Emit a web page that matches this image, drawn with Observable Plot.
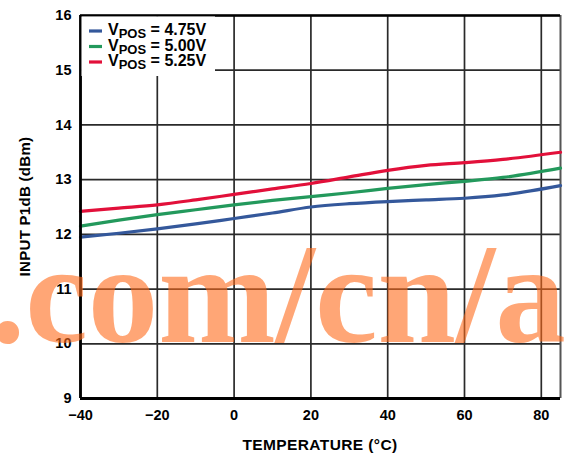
<!DOCTYPE html>
<html>
<head>
<meta charset="utf-8">
<script src="https://cdn.jsdelivr.net/npm/d3@7"></script>
<script src="https://cdn.jsdelivr.net/npm/@observablehq/plot@0.6"></script>
<style>
  html, body { margin: 0; padding: 0; background: #fff; }
  #chart { position: relative; width: 568px; height: 454px; }
</style>
</head>
<body>
<div id="chart"></div>
<script>
const temps = [-40, -30, -20, -10, 0, 10, 20, 30, 40, 50, 60, 70, 85];
const v475 = [11.95, 12.02, 12.10, 12.19, 12.29, 12.39, 12.50, 12.56, 12.60, 12.63, 12.66, 12.72, 12.89];
const v500 = [12.15, 12.26, 12.36, 12.45, 12.54, 12.62, 12.69, 12.76, 12.84, 12.91, 12.97, 13.04, 13.21];
const v525 = [12.42, 12.48, 12.54, 12.63, 12.73, 12.83, 12.93, 13.05, 13.17, 13.26, 13.31, 13.37, 13.50];
const seriesNames = ["4.75V", "5.00V", "5.25V"];
const seriesColors = ["#34589b", "#23995c", "#e2103a"];
const xTicks = [-40, -20, 0, 20, 40, 60, 80];
const yTicks = [9, 10, 11, 12, 13, 14, 15, 16];
const xLabel = "TEMPERATURE (°C)";
const yLabel = "INPUT P1dB (dBm)";
const watermark = ".com/cn/a";

const seriesValues = [v475, v500, v525];
const data = [];
seriesValues.forEach((vals, i) => {
  vals.forEach((v, j) => data.push({series: seriesNames[i], t: temps[j], v}));
});

const W = 568, H = 454;
const mL = 80, mR = 8, mT = 15, mB = 56;
const font = "'Liberation Sans', Arial, sans-serif";

const plot = Plot.plot({
  width: W, height: H,
  marginLeft: mL, marginRight: mR, marginTop: mT, marginBottom: mB,
  style: {fontFamily: font, fontSize: "14px", fontWeight: "bold", color: "#000", background: "#fff"},
  x: {domain: [-40, 85]},
  y: {domain: [9, 16]},
  color: {domain: seriesNames, range: seriesColors},
  marks: [
    Plot.gridX(xTicks, {stroke: "#2a2a2a", strokeOpacity: 1, strokeWidth: 1.7}),
    Plot.gridY(yTicks, {stroke: "#2a2a2a", strokeOpacity: 1, strokeWidth: 1.7}),
    Plot.ruleX([85], {stroke: "#555", strokeWidth: 2}),
    Plot.line(data, {x: "t", y: "v", z: "series", stroke: "series", strokeWidth: 3.2, curve: "monotone-x"}),
    Plot.ruleY([16], {stroke: "#000", strokeWidth: 2.6}),
    Plot.ruleY([9], {stroke: "#000", strokeWidth: 2.8}),
    Plot.ruleX([-40], {stroke: "#000", strokeWidth: 2.8}),
    Plot.axisX(xTicks, {tickSize: 0, tickPadding: 11, label: null, fontWeight: "bold", fontSize: 14.5, tickFormat: d3.format("d")}),
    Plot.axisY(yTicks, {tickSize: 0, tickPadding: 9, label: null, fontWeight: "bold", fontSize: 14.5, tickFormat: d3.format("d")})
  ]
});

document.getElementById("chart").appendChild(plot);
const svg = d3.select(plot);

// legend box
const lg = svg.append("g").attr("font-family", font).attr("font-weight", "bold").attr("text-anchor", "start");
lg.append("rect").attr("x", mL + 1.5).attr("y", mT + 1.5).attr("width", 215 - mL - 1.5).attr("height", 76 - mT - 1.5).attr("fill", "#fff");
const rowY = [35, 50.5, 66];
seriesNames.forEach((name, i) => {
  lg.append("line").attr("x1", 89).attr("x2", 102).attr("y1", rowY[i] - 4).attr("y2", rowY[i] - 4)
    .attr("stroke", seriesColors[i]).attr("stroke-width", 3.2);
  const t = lg.append("text").attr("x", 108).attr("y", rowY[i]).attr("font-size", 16).attr("fill", "#000").attr("text-anchor", "start");
  t.append("tspan").text("V");
  t.append("tspan").attr("font-size", 13).attr("dy", 3).text("POS");
  t.append("tspan").attr("dy", -3).text(" = " + name);
});

// axis labels
svg.append("text").attr("x", (mL + W - mR) / 2).attr("y", 450).attr("text-anchor", "middle")
  .attr("font-family", font).attr("font-weight", "bold").attr("font-size", 15.5).attr("letter-spacing", 0.4).text(xLabel);
svg.append("text").attr("transform", `translate(30,${(mT + H - mB) / 2}) rotate(-90)`).attr("text-anchor", "middle")
  .attr("font-family", font).attr("font-weight", "bold").attr("font-size", 15).attr("letter-spacing", 0.3).text(yLabel);

// watermark
svg.append("text").attr("x", -10).attr("y", 342).attr("text-anchor", "start")
  .attr("font-family", "'Liberation Serif', 'Times New Roman', serif")
  .attr("font-weight", "bold").attr("font-size", 141).attr("fill", "#ff6a1a").attr("fill-opacity", 0.6).text(watermark);
</script>
</body>
</html>
